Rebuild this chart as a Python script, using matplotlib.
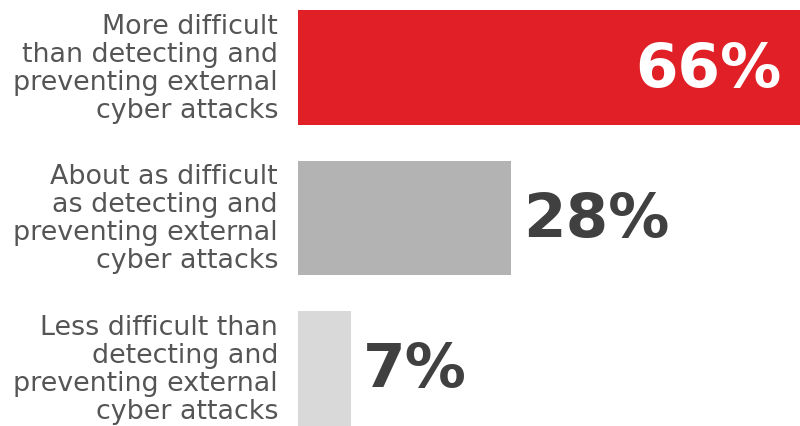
import matplotlib.pyplot as plt

labels = [
    "More difficult\nthan detecting and\npreventing external\ncyber attacks",
    "About as difficult\nas detecting and\npreventing external\ncyber attacks",
    "Less difficult than\ndetecting and\npreventing external\ncyber attacks",
]
values = [66, 28, 7]
colors = ["#E01F26", "#B3B3B3", "#D9D9D9"]

fig = plt.figure(figsize=(8, 4.26), dpi=100)
# bars start at x=298px and the 66% bar reaches the right edge
ax = fig.add_axes([298 / 800, 0, 502 / 800, 1])

pos = list(range(len(values)))
ax.barh(pos, values, height=0.764, color=colors)
ax.set_xlim(0, 66)
ax.set_ylim(2.382, -0.4485)
ax.axis("off")

for i, (lab, v) in enumerate(zip(labels, values)):
    ax.annotate(lab, xy=(0, i), xytext=(-20, -1), textcoords="offset pixels",
                ha="right", va="center", fontsize=19.4, color="#555555",
                family="DejaVu Sans", linespacing=1.1,
                annotation_clip=False)
    if i == 0:
        ax.annotate(f"{v}%", xy=(v, i), xytext=(-18, -3), textcoords="offset pixels",
                    ha="right", va="center", fontsize=44, color="white",
                    family="DejaVu Sans", weight="bold")
    else:
        ax.annotate(f"{v}%", xy=(v, i), xytext=(12, -2), textcoords="offset pixels",
                    ha="left", va="center", fontsize=44, color="#404041",
                    family="DejaVu Sans", weight="bold")

fig.savefig("out.png", dpi=100)
